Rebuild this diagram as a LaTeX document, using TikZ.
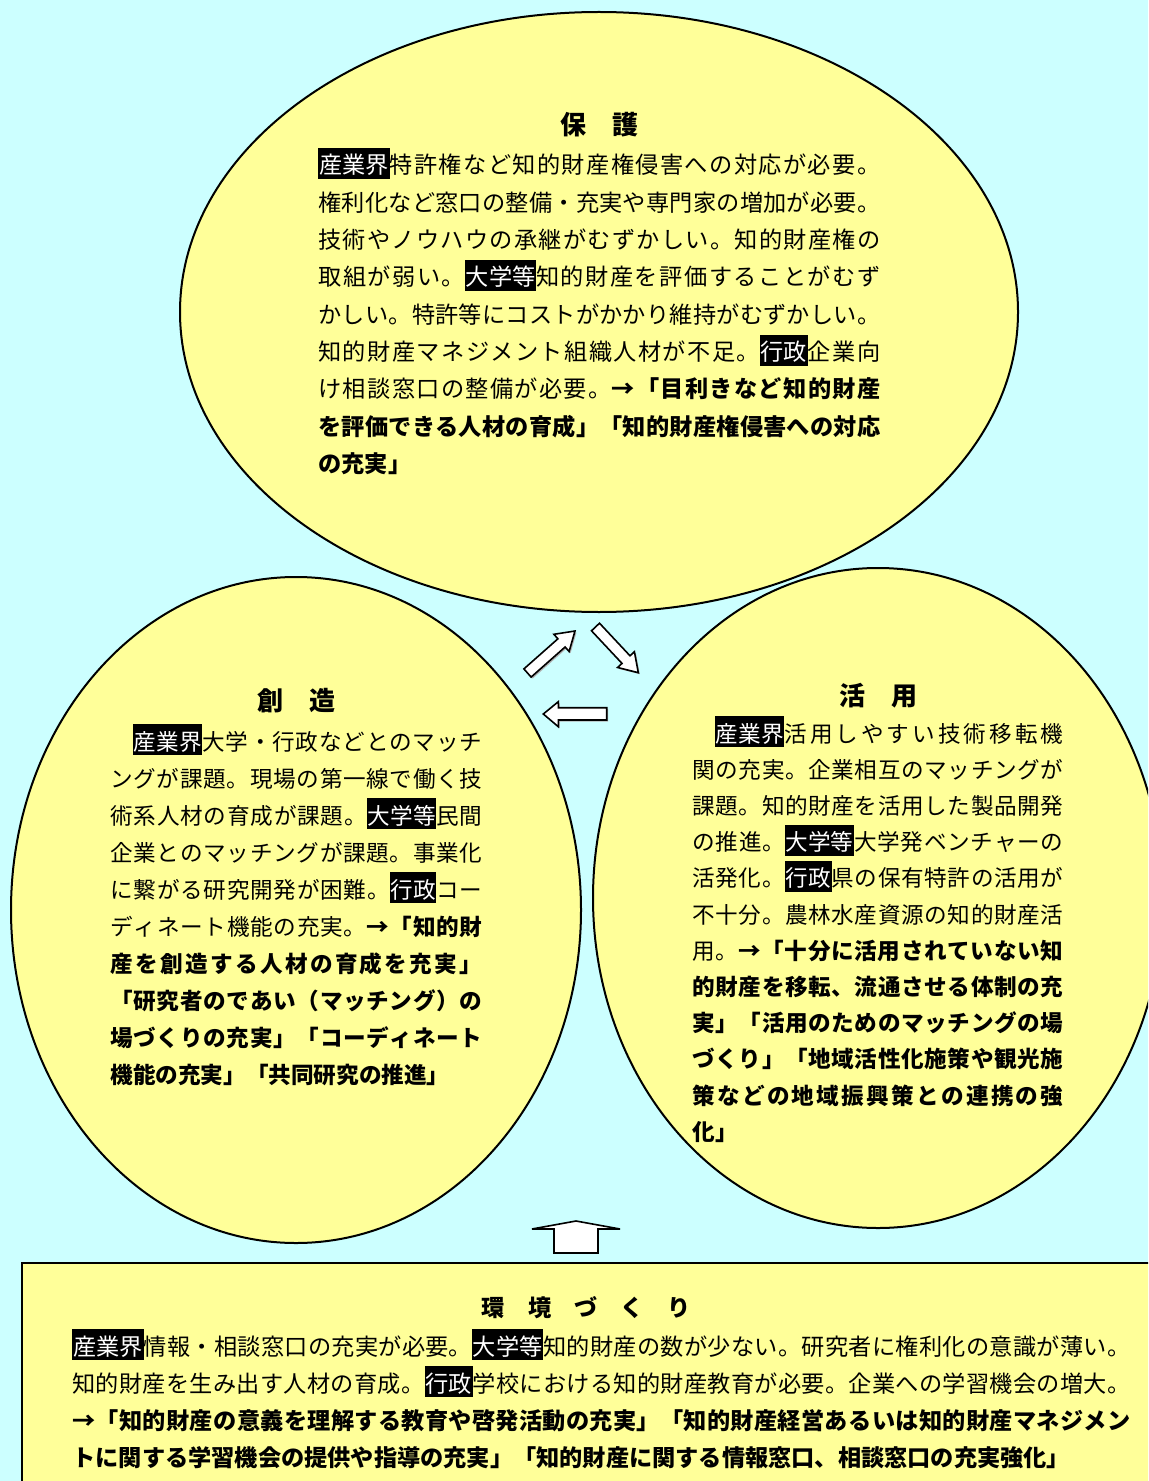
\documentclass[tikz,border=0pt]{standalone}
\usepackage{fontspec}
\setmainfont{Noto Sans CJK JP}
\definecolor{bgc}{HTML}{CCFFFF}
\definecolor{ylw}{HTML}{FFFF99}
\newcount\jcc
\newcommand\setjclass[2]{\jcc=#1\relax\loop\XeTeXcharclass\jcc=7\relax\advance\jcc by 1\relax\ifnum\jcc<#2\repeat}
\setjclass{"2190}{"2200}
\setjclass{"3000}{"3100}
\setjclass{"4E00}{"A000}
\setjclass{"FF00}{"FFF0}
\newcommand\jglue{\hskip 0pt plus 1pt minus 0.4pt}
\XeTeXinterchartoks 7 7 = {\jglue}
\newcommand\jl[2]{\makebox[#1][s]{\XeTeXinterchartokenstate=1 #2}}
\newcommand\tagbox[1]{{\setlength\fboxsep{0pt}\colorbox{black}{\kern0.4pt\textcolor{white}{\rule[-2.5pt]{0pt}{15.5pt}#1}\kern0.4pt}}}
\tikzset{
  ln/.style={anchor=base west, inner sep=0pt, font=\fontsize{11.6}{14}\selectfont},
  lns/.style={anchor=base west, inner sep=0pt, font=\fontsize{11.3}{14}\selectfont},
  ttl/.style={anchor=base, inner sep=0pt, font=\fontsize{13}{15}\selectfont\bfseries},
  oval/.style={fill=ylw, draw=black, line width=1pt},
  blk/.style={fill=white, draw=black, line width=0.8pt, line join=miter},
  shd/.style={fill=black!30}
}
\begin{document}
\begin{tikzpicture}[x=0.5pt,y=-0.5pt]
\useasboundingbox (0,0) rectangle (1148,1481);
\clip (0,0) rectangle (1148,1481);
\fill[bgc] (0,0) rectangle (1148,1481);
% ellipses
\draw[oval] (599,312) ellipse [x radius=419, y radius=300];
\draw[oval] (296,910) ellipse [x radius=285, y radius=333];
\draw[oval] (878,898) ellipse [x radius=285, y radius=330];
% bottom box
\draw[fill=ylw, draw=black, line width=1.3pt] (22,1263) rectangle (1160,1500);
% block arrows
\fill[shd] (525.4,670.4) -- (559.4,640.3) -- (555.4,635.8) -- (576.5,632.5) -- (570.6,653.0) -- (566.6,648.5) -- (532.6,678.6) -- cycle;
\draw[blk] (523.9,668.9) -- (557.9,638.8) -- (553.9,634.3) -- (575,631) -- (569.1,651.5) -- (565.1,647.0) -- (531.1,677.1) -- cycle;
\fill[shd] (601,624.7) -- (631.5,657.3) -- (635.9,653.2) -- (639.8,674.2) -- (619.1,669) -- (623.5,664.9) -- (593,632.3) -- cycle;
\draw[blk] (599.5,623.2) -- (630.0,655.8) -- (634.4,651.7) -- (638.3,672.7) -- (617.6,667.5) -- (622.0,663.4) -- (591.5,630.8) -- cycle;
\fill[shd] (608.2,709.2) -- (559.8,709.2) -- (559.8,703.2) -- (544.8,715.5) -- (559.8,728.2) -- (559.8,721.5) -- (608.2,721.5) -- cycle;
\draw[blk] (606.7,707.7) -- (558.3,707.7) -- (558.3,701.7) -- (543.3,714) -- (558.3,726.7) -- (558.3,720) -- (606.7,720) -- cycle;
\draw[blk] (554,1253) -- (554,1229) -- (532,1229) -- (576,1221) -- (620,1229) -- (598,1229) -- (598,1253) -- cycle;
% top ellipse text
\node[ttl] (hogo) at (599,135) {保　護};
\node[ln] (t1) at (318,174) {\jl{281pt}{\tagbox{産業界}特許権など知的財産権侵害への対応が必要。}};
\node[ln] (t2) at (318,{174+37.3*1}) {\jl{281pt}{権利化など窓口の整備・充実や専門家の増加が必要。}};
\node[ln] (t3) at (318,{174+37.3*2}) {\jl{281pt}{技術やノウハウの承継がむずかしい。知的財産権の}};
\node[ln] (t4) at (318,{174+37.3*3}) {\jl{281pt}{取組が弱い。\tagbox{大学等}知的財産を評価することがむず}};
\node[ln] (t5) at (318,{174+37.3*4}) {\jl{281pt}{かしい。特許等にコストがかかり維持がむずかしい。}};
\node[ln] (t6) at (318,{174+37.3*5}) {\jl{281pt}{知的財産マネジメント組織人材が不足。\tagbox{行政}企業向}};
\node[ln] (t7) at (318,{174+37.3*6}) {\jl{281pt}{け相談窓口の整備が必要。\textbf{→「目利きなど知的財産}}};
\node[ln] (t8) at (318,{174+37.3*7}) {\jl{281pt}{\textbf{を評価できる人材の育成」「知的財産権侵害への対応}}};
\node[ln] (t9) at (318,{174+37.3*8}) {\textbf{の充実」}};
% left ellipse text
\node[ttl] (sozo) at (296,710) {創　造};
\node[lns] (l1) at (110,750) {\jl{186pt}{　\tagbox{産業界}大学・行政などとのマッチ}};
\node[lns] (l2) at (110,{750+37.1*1}) {\jl{186pt}{ングが課題。現場の第一線で働く技}};
\node[lns] (l3) at (110,{750+37.1*2}) {\jl{186pt}{術系人材の育成が課題。\tagbox{大学等}民間}};
\node[lns] (l4) at (110,{750+37.1*3}) {\jl{186pt}{企業とのマッチングが課題。事業化}};
\node[lns] (l5) at (110,{750+37.1*4}) {\jl{186pt}{に繋がる研究開発が困難。\tagbox{行政}コー}};
\node[lns] (l6) at (110,{750+37.1*5}) {\jl{186pt}{ディネート機能の充実。\textbf{→「知的財}}};
\node[lns] (l7) at (110,{750+37.1*6}) {\jl{186pt}{\textbf{産を創造する人材の育成を充実」}}};
\node[lns] (l8) at (110,{750+37.1*7}) {\jl{186pt}{\textbf{「研究者のであい（マッチング）の}}};
\node[lns] (l9) at (110,{750+37.1*8}) {\jl{186pt}{\textbf{場づくりの充実」「コーディネート}}};
\node[lns] (l10) at (110,{750+37.1*9}) {\textbf{機能の充実」「共同研究の推進」}};
% right ellipse text
\node[ttl] (katsuyo) at (878,705) {活　用};
\node[lns] (r1) at (692,742) {\jl{185.5pt}{　\tagbox{産業界}活用しやすい技術移転機}};
\node[lns] (r2) at (692,{742+36.2*1}) {\jl{185.5pt}{関の充実。企業相互のマッチングが}};
\node[lns] (r3) at (692,{742+36.2*2}) {\jl{185.5pt}{課題。知的財産を活用した製品開発}};
\node[lns] (r4) at (692,{742+36.2*3}) {\jl{185.5pt}{の推進。\tagbox{大学等}大学発ベンチャーの}};
\node[lns] (r5) at (692,{742+36.2*4}) {\jl{185.5pt}{活発化。\tagbox{行政}県の保有特許の活用が}};
\node[lns] (r6) at (692,{742+36.2*5}) {\jl{185.5pt}{不十分。農林水産資源の知的財産活}};
\node[lns] (r7) at (692,{742+36.2*6}) {\jl{185.5pt}{用。\textbf{→「十分に活用されていない知}}};
\node[lns] (r8) at (692,{742+36.2*7}) {\jl{185.5pt}{\textbf{的財産を移転、流通させる体制の充}}};
\node[lns] (r9) at (692,{742+36.2*8}) {\jl{185.5pt}{\textbf{実」「活用のためのマッチングの場}}};
\node[lns] (r10) at (692,{742+36.2*9}) {\jl{185.5pt}{\textbf{づくり」「地域活性化施策や観光施}}};
\node[lns] (r11) at (692,{742+36.2*10}) {\jl{185.5pt}{\textbf{策などの地域振興策との連携の強}}};
\node[lns] (r12) at (692,{742+36.2*11}) {\textbf{化」}};
% bottom box text
\node[ttl, font=\fontsize{11.6}{14}\selectfont\bfseries] (kankyo) at (586,1316) {環　境　づ　く　り};
\node[ln] (b1) at (72,1355) {\jl{529pt}{\tagbox{産業界}情報・相談窓口の充実が必要。\tagbox{大学等}知的財産の数が少ない。研究者に権利化の意識が薄い。}};
\node[ln] (b2) at (72,{1355+37.3*1}) {\jl{529pt}{知的財産を生み出す人材の育成。\tagbox{行政}学校における知的財産教育が必要。企業への学習機会の増大。}};
\node[ln] (b3) at (72,{1355+37.3*2}) {\jl{529pt}{\textbf{→「知的財産の意義を理解する教育や啓発活動の充実」「知的財産経営あるいは知的財産マネジメン}}};
\node[ln] (b4) at (72,{1355+37.3*3}) {\textbf{トに関する学習機会の提供や指導の充実」「知的財産に関する情報窓口、相談窓口の充実強化」}};
\end{tikzpicture}
\end{document}
